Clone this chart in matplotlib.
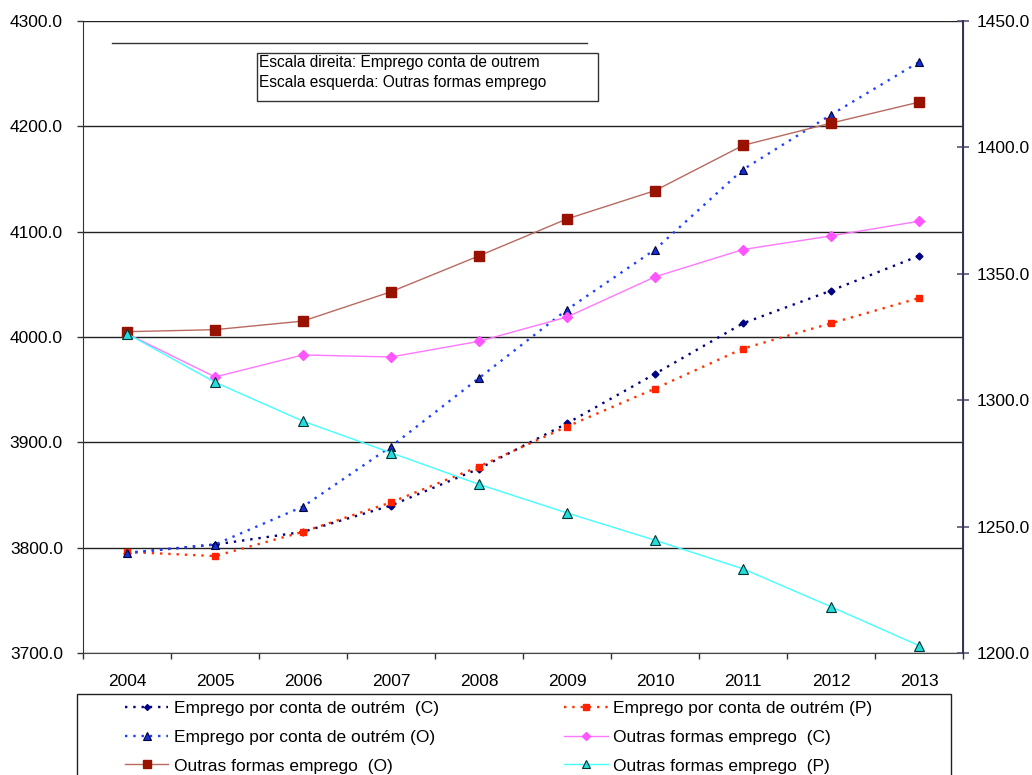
import matplotlib
matplotlib.use("Agg")
import matplotlib.pyplot as plt
from matplotlib.lines import Line2D
from matplotlib.patches import Rectangle
import matplotlib.ticker as ticker

plt.rcParams["font.family"] = ["Liberation Sans", "DejaVu Sans"]

years = ["2004", "2005", "2006", "2007", "2008", "2009", "2010", "2011", "2012", "2013"]

# Emprego por conta de outrem (left scale, thousands)
emp_c = [3795, 3803, 3815, 3840, 3875, 3918, 3965, 4013, 4044, 4077]
emp_p = [3796, 3792, 3815, 3843, 3877, 3915, 3951, 3989, 4013, 4037]
emp_o = [3795, 3803, 3839, 3896, 3961, 4026, 4083, 4159, 4211, 4261]

# Outras formas emprego (right scale, thousands)
out_c = [1326.3, 1309.2, 1317.9, 1317.1, 1323.3, 1332.9, 1348.8, 1359.6, 1365.0, 1370.8]
out_o = [1327.1, 1327.9, 1331.3, 1342.9, 1357.1, 1371.7, 1382.9, 1400.8, 1409.6, 1417.9]
out_p = [1326.3, 1307.1, 1291.7, 1279.2, 1266.7, 1255.4, 1244.6, 1233.3, 1218.3, 1202.9]

W, H = 1032, 775
FS = 12.5
fig = plt.figure(figsize=(W / 100, H / 100), dpi=100)
ax = fig.add_axes([83 / W, 1 - 653 / H, (963 - 83) / W, (653 - 21) / H])
ax2 = ax.twinx()

x = list(range(len(years)))

l_c, = ax.plot(x, emp_c, linestyle=(0, (1, 2.5)), lw=1.7, color="#000080", marker="D",
               ms=3.5, mfc="#000080", mec="#000080", zorder=4)
l_p, = ax.plot(x, emp_p, linestyle=(0, (1, 2.5)), lw=1.7, color="#FF3300", marker="s",
               ms=5, mfc="#FF2200", mec="#FF2200", zorder=4)
l_o, = ax.plot(x, emp_o, linestyle=(0, (1, 2.5)), lw=1.7, color="#2040FF", marker="^",
               ms=6, mfc="#1530D0", mec="#000040", mew=0.8, zorder=4)

m_c, = ax2.plot(x, out_c, linestyle="-", lw=1.0, color="#FF77FF", marker="D",
                ms=5, mfc="#FF55FF", mec="#FF55FF", zorder=4)
m_o, = ax2.plot(x, out_o, linestyle="-", lw=1.0, color="#B86A60", marker="s",
                ms=6.5, mfc="#991100", mec="#991100", zorder=4)
m_p, = ax2.plot(x, out_p, linestyle="-", lw=1.0, color="#44FFFF", marker="^",
                ms=6.5, mfc="#22DDDD", mec="#003333", mew=0.8, zorder=4)

ax.set_xlim(-0.5, len(years) - 0.5)
ax.set_ylim(3700, 4300)
ax2.set_ylim(1200, 1450)

ax.set_yticks(range(3700, 4301, 100))
ax2.set_yticks(range(1200, 1451, 50))
ax.yaxis.set_major_formatter(ticker.FormatStrFormatter("%.1f"))
ax2.yaxis.set_major_formatter(ticker.FormatStrFormatter("%.1f"))

ax.set_xticks([i - 0.5 for i in range(len(years) + 1)])
ax.set_xticklabels([])
ax.set_xticks(x, minor=True)
ax.set_xticklabels(years, minor=True)
ax.tick_params(axis="x", which="major", direction="out", length=4, width=1, color="#333333")
ax.tick_params(axis="x", which="minor", length=0, pad=15, labelsize=FS)
ax.tick_params(axis="y", direction="out", length=4.5, width=1, pad=10,
               labelsize=FS, color="#333333")
ax2.tick_params(axis="y", direction="inout", length=8, width=1.2, pad=6,
                labelsize=FS, color="#555577")

ax.grid(axis="y", color="#222222", lw=1)
ax.set_axisbelow(True)
ax.spines["top"].set_visible(False)
ax2.spines["top"].set_visible(False)
ax.spines["left"].set_color("#333333")
ax.spines["bottom"].set_color("#444444")
ax2.spines["right"].set_color("#333355")
ax2.spines["right"].set_linewidth(1.4)
ax2.spines["left"].set_visible(False)
ax2.spines["bottom"].set_visible(False)

# decoration line and note box
fig.add_artist(Line2D([112 / W, 587 / W], [1 - 43 / H, 1 - 43 / H],
                      color="#333333", lw=1))
fig.add_artist(Rectangle((257 / W, 1 - 101 / H), (598 - 257) / W, (101 - 53) / H,
                         fill=True, facecolor="white", edgecolor="#333333", lw=1))
fig.text(259 / W, 1 - 62 / H, "Escala direita: Emprego conta de outrem",
         fontsize=11.2, va="center", ha="left")
fig.text(259 / W, 1 - 82 / H, "Escala esquerda: Outras formas emprego",
         fontsize=11.2, va="center", ha="left")

# legend
fig.add_artist(Rectangle((77 / W, -0.05), (951 - 77) / W, 1 - 694 / H + 0.05,
                         fill=False, edgecolor="#222222", lw=1))
handles = [l_c, l_o, m_o, l_p, m_c, m_p]
labels = ["Emprego por conta de outrém  (C)", "Emprego por conta de outrém (O)",
          "Outras formas emprego  (O)", "Emprego por conta de outrém (P)",
          "Outras formas emprego  (C)", "Outras formas emprego  (P)"]
fig.legend(handles, labels, loc="upper left", bbox_to_anchor=(125 / W, 1 - 701 / H),
           ncol=2, frameon=False, fontsize=FS, handlelength=2.5, handletextpad=0.3,
           labelspacing=0.78, columnspacing=7.25, borderaxespad=0, borderpad=0.0,
           markerscale=0.85)

fig.savefig("out.png", dpi=100)
